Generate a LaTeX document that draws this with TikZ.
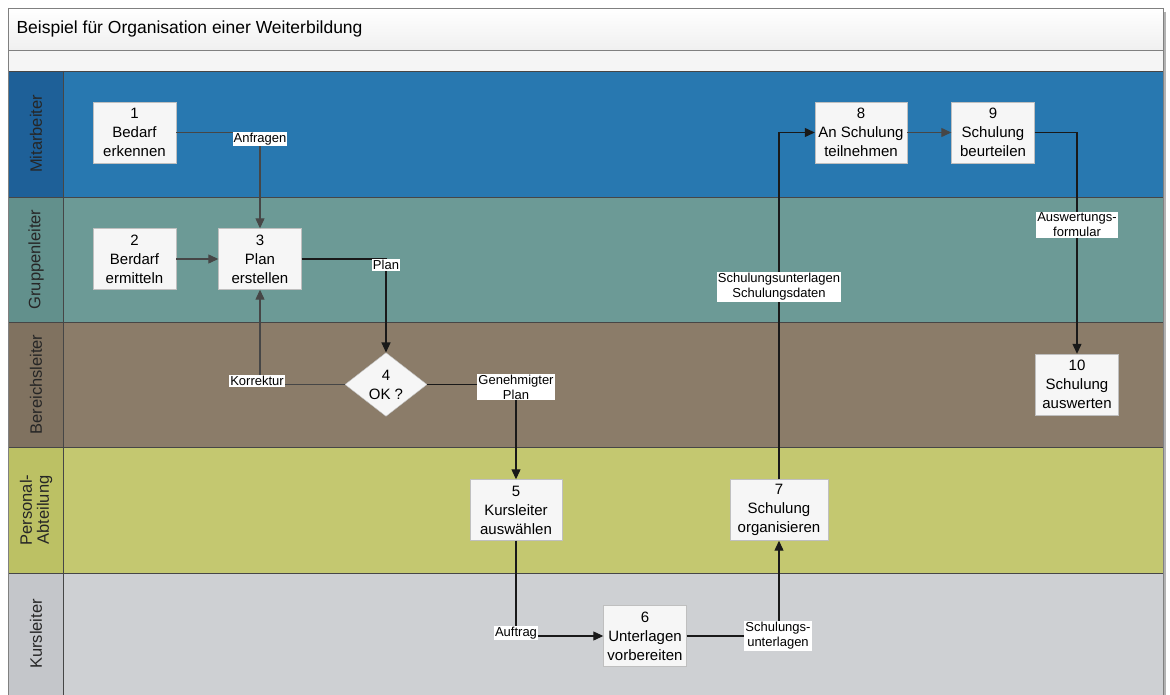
\documentclass[tikz,border=0pt]{standalone}
\usepackage{fontspec}
\setmainfont{Liberation Sans}
\usetikzlibrary{shapes.geometric,arrows.meta}
\definecolor{mitB}{RGB}{40,120,176}
\definecolor{mitL}{RGB}{30,96,152}
\definecolor{grpB}{RGB}{108,154,150}
\definecolor{grpL}{RGB}{98,144,140}
\definecolor{berB}{RGB}{139,124,105}
\definecolor{berL}{RGB}{128,114,96}
\definecolor{perB}{RGB}{196,200,112}
\definecolor{perL}{RGB}{188,193,100}
\definecolor{kurB}{RGB}{206,208,211}
\definecolor{kurL}{RGB}{196,198,202}
\definecolor{lineC}{RGB}{25,25,25}
\definecolor{lineG}{RGB}{70,70,70}
\definecolor{sepC}{RGB}{70,70,70}
\definecolor{boxF}{RGB}{246,246,246}
\begin{document}
\begin{tikzpicture}[x=1pt,y=-1pt,
 box/.style={draw=gray!50, fill=boxF, minimum width=83pt, minimum height=61pt, align=center, font=\fontsize{15}{19}\selectfont, inner sep=1pt},
 dia/.style={diamond, draw=gray!50, fill=boxF, minimum width=82pt, minimum height=60pt, inner sep=0pt, align=center, font=\fontsize{15}{19}\selectfont},
 lbl/.style={fill=white, inner sep=1pt, align=center, font=\fontsize{13}{15}\selectfont},
 conn/.style={draw=lineC, line width=1.2pt},
 arr/.style={conn, -{Triangle[length=10pt,width=9pt]}},
 garr/.style={arr, draw=lineG},
 lanetxt/.style={font=\fontsize{16.5}{18}\selectfont, rotate=90, align=center, text=black!85}
]
\useasboundingbox (0,0) rectangle (1170,695);
\fill[white] (0,0) rectangle (1170,695);
% title bands
\shade[top color=white, bottom color=black!6, draw=gray] (8,8) rectangle (1163,50);
\fill[black!4] (8,50) rectangle (1163,71);
\draw[gray] (8,50) rectangle (1163,71);
\node[anchor=west, font=\fontsize{17.5}{20}\selectfont] (title) at (13,29) {Beispiel für Organisation einer Weiterbildung};
% lanes
\fill[mitB] (63,71) rectangle (1163,197);
\fill[mitL] (8,71) rectangle (63,197);
\fill[grpB] (63,197) rectangle (1163,322);
\fill[grpL] (8,197) rectangle (63,322);
\fill[berB] (63,322) rectangle (1163,447);
\fill[berL] (8,322) rectangle (63,447);
\fill[perB] (63,447) rectangle (1163,573);
\fill[perL] (8,447) rectangle (63,573);
\fill[kurB] (63,573) rectangle (1163,695);
\fill[kurL] (8,573) rectangle (63,695);
\foreach \yy in {71,197,322,447,573} \draw[sepC, line width=0.8pt] (8,\yy) -- (1163,\yy);
\draw[sepC, line width=0.8pt] (63,71) -- (63,695);
\draw[gray, line width=0.8pt] (8,8) -- (8,695);
\draw[gray, line width=0.8pt] (1163,8) -- (1163,695);
\draw[gray!60, line width=1.5pt] (1165,12) -- (1165,695);
\node[lanetxt] (lmit) at (36,134) {Mitarbeiter};
\node[lanetxt] (lgrp) at (36,259.5) {Gruppenleiter};
\node[lanetxt] (lber) at (36,384.5) {Bereichsleiter};
\node[lanetxt, font=\fontsize{16.5}{17}\selectfont] (lper) at (36,510) {Personal-\\Abteilung};
\node[lanetxt] (lkur) at (36,634) {Kursleiter};
% nodes
\node[box] (n1) at (134.5,132.5) {1\\Bedarf\\erkennen};
\node[box] (n2) at (134.5,259) {2\\Berdarf\\ermitteln};
\node[box] (n3) at (260,259) {3\\Plan\\erstellen};
\node[dia] (n4) at (386,384.5) {4\\OK ?};
\node[box, minimum width=92pt] (n5) at (516,510) {5\\Kursleiter\\auswählen};
\node[box] (n6) at (645,636) {6\\Unterlagen\\vorbereiten};
\node[box, minimum width=98pt] (n7) at (779,510) {7\\Schulung\\organisieren};
\node[box, minimum width=92pt] (n8) at (861,132.5) {8\\An Schulung\\teilnehmen};
\node[box] (n9) at (993,132.5) {9\\Schulung\\beurteilen};
\node[box] (n10) at (1077,384.5) {10\\Schulung\\auswerten};
% connectors
\draw[garr] (n1.east) -| (n3.north);
\draw[garr] (n2.east) -- (n3.west);
\draw[arr] (n3.east) -| (n4.north);
\draw[garr] (n4.west) -| (n3.south);
\draw[arr] (n4.east) -| (n5.north);
\draw[arr] (n5.south) |- (n6.west);
\draw[arr] (n6.east) -| (n7.south);
\draw[arr] (n7.north) |- (n8.west);
\draw[garr] (n8.east) -- (n9.west);
\draw[arr] (n9.east) -| (n10.north);
% labels
\node[lbl] (la) at (260,139) {Anfragen};
\node[lbl] (lp) at (386,265) {Plan};
\node[lbl] (lk) at (257,381) {Korrektur};
\node[lbl] (lg) at (516,387) {Genehmigter\\Plan};
\node[lbl] (lau) at (516,633) {Auftrag};
\node[lbl] (ls) at (778,636) {Schulungs-\\unterlagen};
\node[lbl] (lsd) at (779,287) {Schulungsunterlagen\\Schulungsdaten};
\node[lbl] (law) at (1077,225) {Auswertungs-\\formular};
\end{tikzpicture}
\end{document}
